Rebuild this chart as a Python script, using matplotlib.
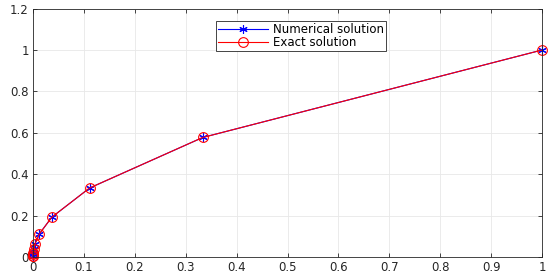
import matplotlib
matplotlib.use('Agg')
import matplotlib.pyplot as plt

plt.rcParams['font.family'] = ['DejaVu Sans']

x_num = [1.0, 0.3333, 0.1111, 0.0370, 0.0123, 0.0041, 0.00137, 0.00046, 0.00015, 0.00005, 0.000017]
y_num = [1.0, 0.5774, 0.3333, 0.1925, 0.1111, 0.0642, 0.0370, 0.0214, 0.0123, 0.0071, 0.0041]
x_exact = x_num
y_exact = y_num

fig = plt.figure(figsize=(5.5, 2.78), dpi=100)
ax = fig.add_axes([0.06, 0.0755, 0.9255, 0.8935])

ax.plot(x_num, y_num, color='blue', marker=(6, 2, 0), markersize=6, markeredgewidth=0.8,
        linewidth=0.8, label='Numerical solution', clip_on=False)
ax.plot(x_exact, y_exact, color='red', marker='o', markersize=7, markerfacecolor='none',
        markeredgewidth=0.8, linewidth=0.8, label='Exact solution', clip_on=False)

ax.set_xlim(0, 1)
ax.set_ylim(0, 1.2)
ax.set_xticks([0, 0.1, 0.2, 0.3, 0.4, 0.5, 0.6, 0.7, 0.8, 0.9, 1])
ax.set_xticklabels(['0', '0.1', '0.2', '0.3', '0.4', '0.5', '0.6', '0.7', '0.8', '0.9', '1'])
ax.set_yticks([0, 0.2, 0.4, 0.6, 0.8, 1, 1.2])
ax.set_yticklabels(['0', '0.2', '0.4', '0.6', '0.8', '1', '1.2'])
ax.tick_params(direction='in', labelsize=8.5, length=3, width=0.6, top=True, right=True,
               colors='#262626', pad=3)
ax.grid(True, color='#e8e8e8', linewidth=0.6)
ax.set_axisbelow(True)
for s in ax.spines.values():
    s.set_linewidth(0.6)
    s.set_color('#262626')

leg = ax.legend(loc='upper center', bbox_to_anchor=(0.527, 0.95), borderaxespad=0,
                fontsize=8.5, fancybox=False, framealpha=1, edgecolor='#262626',
                borderpad=0.15, labelspacing=0.05, handlelength=4.2, handletextpad=0.5)
leg.get_frame().set_linewidth(0.6)

fig.savefig('out.png', dpi=100)
